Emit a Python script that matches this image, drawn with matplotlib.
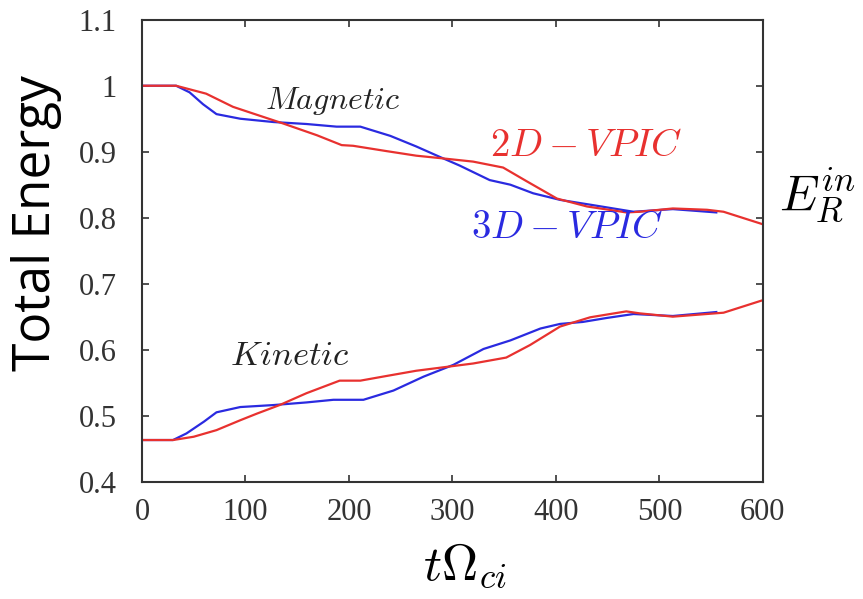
import matplotlib
matplotlib.use("Agg")
import matplotlib.pyplot as plt

plt.rcParams['mathtext.fontset'] = 'cm'

# Magnetic energy, 2D-VPIC (red)
mag2d_t = [0, 33, 62, 88, 111, 136, 169, 193, 204, 236, 265, 290, 320, 349, 372, 401, 430, 468, 481, 513, 546, 562, 600]
mag2d_e = [1.0, 1.0, 0.988, 0.968, 0.956, 0.943, 0.925, 0.910, 0.909, 0.901, 0.894, 0.890, 0.885, 0.876, 0.855, 0.829, 0.817, 0.808, 0.809, 0.814, 0.812, 0.809, 0.790]
# Magnetic energy, 3D-VPIC (blue)
mag3d_t = [0, 33, 46, 59, 72, 95, 127, 159, 188, 211, 240, 265, 288, 307, 336, 356, 378, 404, 436, 475, 513, 555]
mag3d_e = [1.0, 1.0, 0.990, 0.972, 0.957, 0.950, 0.945, 0.942, 0.938, 0.938, 0.924, 0.908, 0.892, 0.879, 0.857, 0.850, 0.837, 0.827, 0.819, 0.809, 0.813, 0.808]
# Kinetic energy, 2D-VPIC (red)
kin2d_t = [0, 30, 50, 72, 95, 111, 133, 159, 191, 211, 236, 265, 290, 320, 352, 375, 404, 433, 468, 481, 513, 562, 600]
kin2d_e = [0.463, 0.463, 0.468, 0.478, 0.493, 0.503, 0.516, 0.534, 0.553, 0.553, 0.560, 0.568, 0.573, 0.579, 0.588, 0.607, 0.635, 0.649, 0.658, 0.655, 0.650, 0.656, 0.675]
# Kinetic energy, 3D-VPIC (blue)
kin3d_t = [0, 30, 43, 60, 72, 95, 127, 159, 185, 214, 243, 272, 301, 330, 356, 385, 404, 426, 449, 475, 513, 555]
kin3d_e = [0.463, 0.463, 0.473, 0.491, 0.505, 0.513, 0.516, 0.520, 0.524, 0.524, 0.538, 0.559, 0.577, 0.601, 0.614, 0.632, 0.639, 0.642, 0.648, 0.654, 0.651, 0.657]

x_ticks = [0, 100, 200, 300, 400, 500, 600]
y_ticks = [0.4, 0.5, 0.6, 0.7, 0.8, 0.9, 1.0, 1.1]
y_tick_labels = ['0.4', '0.5', '0.6', '0.7', '0.8', '0.9', '1', '1.1']

fig = plt.figure(figsize=(8.63, 5.99), dpi=100)
ax = fig.add_axes([0.1645, 0.196, 0.7195, 0.771])

red = '#e8312f'
blue = '#2a2ae0'
ax.plot(mag3d_t, mag3d_e, color=blue, lw=1.6)
ax.plot(kin3d_t, kin3d_e, color=blue, lw=1.6)
ax.plot(mag2d_t, mag2d_e, color=red, lw=1.6)
ax.plot(kin2d_t, kin2d_e, color=red, lw=1.6)

ax.set_xlim(0, 600)
ax.set_ylim(0.4, 1.1)
ax.set_xticks(x_ticks)
ax.set_yticks(y_ticks)
ax.set_yticklabels(y_tick_labels)
ax.tick_params(direction='in', top=True, right=True, length=5, width=1.2,
               colors='#333333', labelsize=22)
ax.tick_params(axis='x', pad=12)
ax.tick_params(axis='y', pad=18)
for lab in ax.get_xticklabels() + ax.get_yticklabels():
    lab.set_family('Liberation Serif')
for s in ax.spines.values():
    s.set_linewidth(1.5)
    s.set_color('#333333')

ax.text(184, 0.977, r'$Magnetic$', fontsize=23, ha='center', va='center', color='#222222')
ax.text(143, 0.592, r'$Kinetic$', fontsize=25, ha='center', va='center', color='#222222')
ax.text(429, 0.910, r'$2D-VPIC$', fontsize=28, ha='center', va='center', color=red)
ax.text(411, 0.786, r'$3D-VPIC$', fontsize=28, ha='center', va='center', color=blue)
ax.text(1.026, 0.62, r'$E_R^{in}$', transform=ax.transAxes, fontsize=36, ha='left', va='center')

ax.set_ylabel('Total Energy', fontsize=37, family='Open Sans', labelpad=12)
ax.yaxis.label.set_y(0.559)
ax.set_xlabel(r'$t\Omega_{ci}$', fontsize=36, labelpad=10)
ax.xaxis.label.set_x(0.52)

fig.savefig('out.png', dpi=100)
